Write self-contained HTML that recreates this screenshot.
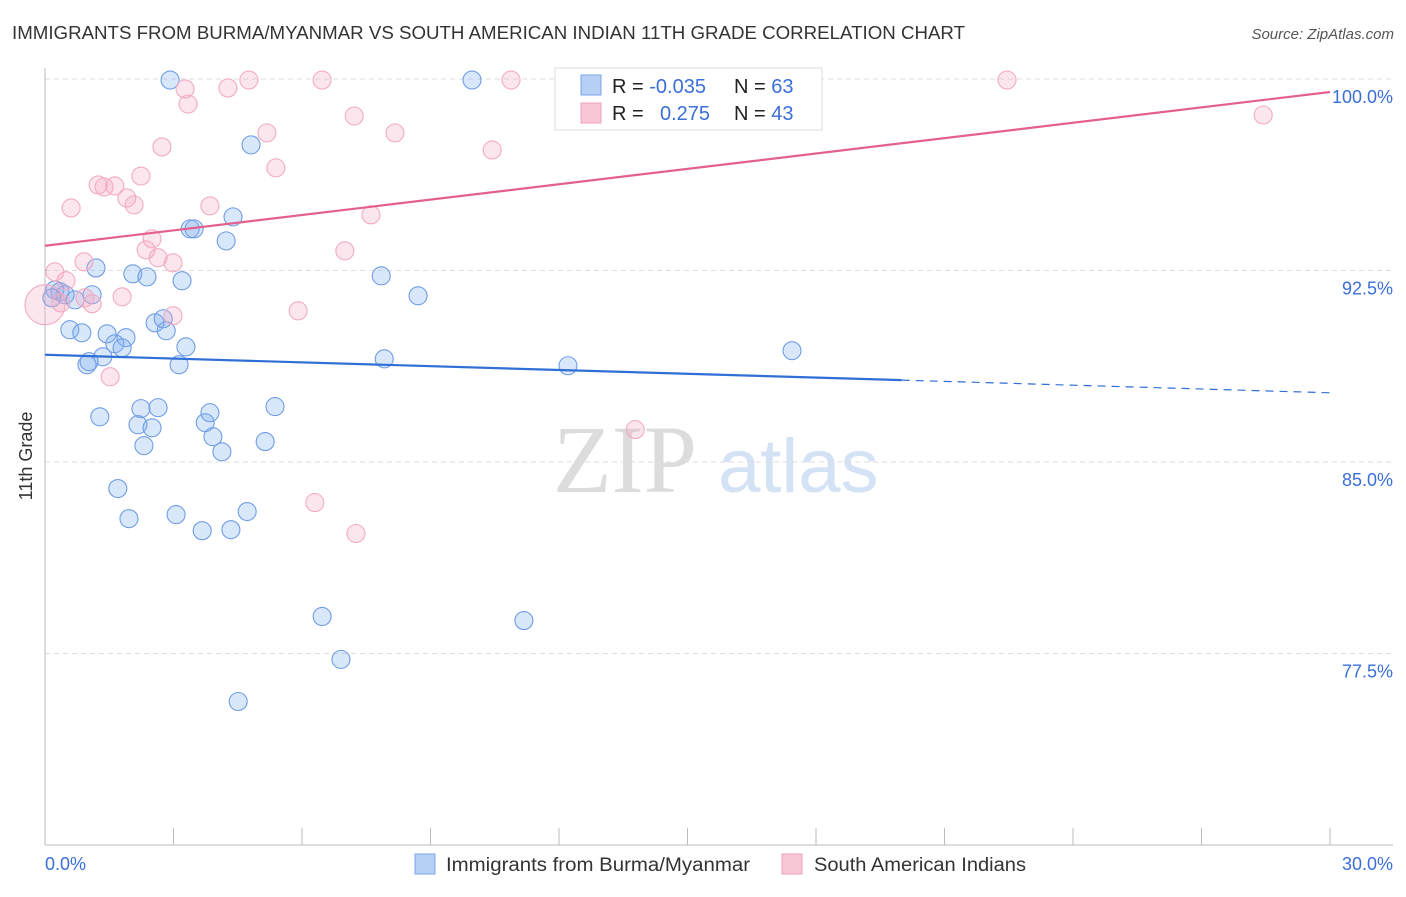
<!DOCTYPE html>
<html><head><meta charset="utf-8"><style>
body{margin:0;background:#fff;font-family:"Liberation Sans",sans-serif}
</style></head><body>
<svg width="1406" height="892" xmlns="http://www.w3.org/2000/svg" id="svg">
<text x="12" y="39" font-size="18" fill="#333" textLength="953" lengthAdjust="spacingAndGlyphs">IMMIGRANTS FROM BURMA/MYANMAR VS SOUTH AMERICAN INDIAN 11TH GRADE CORRELATION CHART</text>
<text x="1394" y="39" font-size="15" fill="#555" font-style="italic" text-anchor="end">Source: ZipAtlas.com</text>
<text x="32" y="456" font-size="18" fill="#333" transform="rotate(-90 32 456)" text-anchor="middle">11th Grade</text>
<g>
<text x="553" y="492" font-size="96" font-family="Liberation Serif" fill="#dcdcdc">ZIP</text>
<text x="718" y="492" font-size="76" fill="#d3e2f5">atlas</text>
</g>
<g id="grid"></g><g id="axes"></g><g id="marks"></g><g id="lines"></g>
<g>
<rect x="555" y="68" width="267" height="62" fill="#fff" stroke="#ddd"/>
<rect x="581" y="75" width="20" height="20" fill="#b5cff5" stroke="#7aa6ea"/>
<rect x="581" y="103" width="20" height="20" fill="#f9c6d6" stroke="#f0a0b8"/>
<text x="612" y="93" font-size="20" fill="#222">R = <tspan fill="#3a6fd8">-0.035</tspan></text>
<text x="734" y="93" font-size="20" fill="#222">N = <tspan fill="#3a6fd8">63</tspan></text>
<text x="612" y="120" font-size="20" fill="#222">R = <tspan fill="#3a6fd8" x="660">0.275</tspan></text>
<text x="734" y="120" font-size="20" fill="#222">N = <tspan fill="#3a6fd8">43</tspan></text>
</g>
<g>
<rect x="415" y="854" width="20" height="20" fill="#b5cff5" stroke="#7aa6ea"/>
<text x="446" y="871" font-size="19" fill="#333" textLength="304" lengthAdjust="spacingAndGlyphs">Immigrants from Burma/Myanmar</text>
<rect x="782" y="854" width="20" height="20" fill="#f9c6d6" stroke="#f0a0b8"/>
<text x="814" y="871" font-size="19" fill="#333" textLength="212" lengthAdjust="spacingAndGlyphs">South American Indians</text>
</g>
</svg>
<script>
const yTicks=[100,92.5,85,77.5];
const yTickLabels=["100.0%","92.5%","85.0%","77.5%"];
const xTickLabels=["0.0%","30.0%"];
const blueX=[2.92,9.97,4.81,4.39,3.39,3.48,4.23,1.19,2.05,2.38,3.20,7.85,8.71,0.23,0.35,0.47,0.70,1.10,0.16,0.58,0.86,1.45,1.89,1.63,1.80,2.57,2.76,2.83,3.29,1.35,0.98,1.03,3.13,7.92,12.21,17.44,1.28,2.24,2.64,2.17,2.50,2.31,3.74,3.85,3.92,4.13,5.37,5.14,1.70,1.96,3.06,3.67,4.34,4.72,6.47,11.18,6.91,4.51];
const blueY=[99.96,99.96,97.42,94.60,94.13,94.13,93.66,92.60,92.37,92.25,92.10,92.29,91.51,91.74,91.67,91.55,91.35,91.55,91.43,90.18,90.06,90.02,89.87,89.63,89.47,90.45,90.61,90.14,89.51,89.12,88.81,88.93,88.81,89.04,88.77,89.36,86.77,87.09,87.13,86.46,86.34,85.64,86.54,86.93,85.99,85.40,87.17,85.80,83.96,82.78,82.94,82.31,82.35,83.06,78.95,78.79,77.27,75.62];
const pinkX=[0.61,1.24,1.38,1.63,2.24,1.91,2.08,2.73,3.27,3.34,4.27,4.76,6.47,7.22,8.17,5.18,5.39,3.85,2.50,2.36,2.64,2.99,0.91,1.80,1.10,2.99,5.91,7.00,7.61,10.44,10.88,22.46,28.44,1.52,13.78,6.30,7.26,0.23,0.49,0.37,0.0,0.93];
const pinkY=[94.95,95.85,95.77,95.81,96.20,95.34,95.07,97.34,99.61,99.02,99.65,99.96,99.96,98.55,97.89,97.89,96.52,95.03,93.74,93.31,93.00,92.80,92.84,91.47,91.20,90.73,90.92,93.27,94.68,97.22,99.96,99.96,98.59,88.34,86.27,83.41,82.20,92.45,92.10,91.23,91.16,91.43];
const blueTrend=[89.20,87.71];
const pinkTrend=[93.47,99.49];
const NS='http://www.w3.org/2000/svg';
const X=v=>45+v/30*1285, Y=v=>79+(100-v)/30*766;
function mk(t,a,p){const e=document.createElementNS(NS,t);for(const k in a)e.setAttribute(k,a[k]);document.getElementById(p).appendChild(e);return e;}
yTicks.forEach((t,i)=>{
 const l=mk('line',{x1:45,x2:1393,y1:Y(t),y2:Y(t),stroke:'#ddd','stroke-dasharray':'5,4'},'grid');
 
 
 const tx=mk('text',{x:1393,y:Y(t)+24,'font-size':18,fill:'#3a6fd8','text-anchor':'end'},'grid');
 tx.textContent=yTickLabels[i];
 
 
});
let a=mk('line',{x1:45,x2:45,y1:68,y2:845,stroke:'#bbb'},'axes');


a=mk('line',{x1:45,x2:1393,y1:845,y2:845,stroke:'#bbb'},'axes');


for(let i=1;i<=10;i++){const t=mk('line',{x1:X(i*3),x2:X(i*3),y1:828,y2:845,stroke:'#bbb'},'axes');
 
 }
[[0,45,'start'],[30,1393,'end']].forEach((d,i)=>{const t=mk('text',{x:d[1],y:870,'font-size':18,fill:'#3a6fd8','text-anchor':d[2]},'axes');t.textContent=xTickLabels[i];
 
 });
blueX.forEach((v,i)=>{const c=mk('circle',{cx:X(v),cy:Y(blueY[i]),r:9,fill:'rgba(130,175,240,0.3)',stroke:'#6f9de6','stroke-width':1.1},'marks');
 
 });
pinkX.forEach((v,i)=>{const c=mk('circle',{cx:X(v),cy:Y(pinkY[i]),r:(v===0?20:9),fill:'rgba(245,165,195,0.28)',stroke:'#f2abc2','stroke-width':1.1},'marks');
 
 });
const by=x=>blueTrend[0]+(blueTrend[1]-blueTrend[0])*x/30;
let l=mk('line',{x1:X(0),y1:Y(by(0)),x2:X(20),y2:Y(by(20)),stroke:'#2f6fd6','stroke-width':2.2},'lines');


l=mk('line',{x1:X(20),y1:Y(by(20)),x2:X(30),y2:Y(by(30)),stroke:'#2f6fd6','stroke-width':1.2,'stroke-dasharray':'8,6'},'lines');


l=mk('line',{x1:X(0),y1:Y(pinkTrend[0]),x2:X(30),y2:Y(pinkTrend[1]),stroke:'#e3608c','stroke-width':2.2},'lines');


</script>
</body></html>
